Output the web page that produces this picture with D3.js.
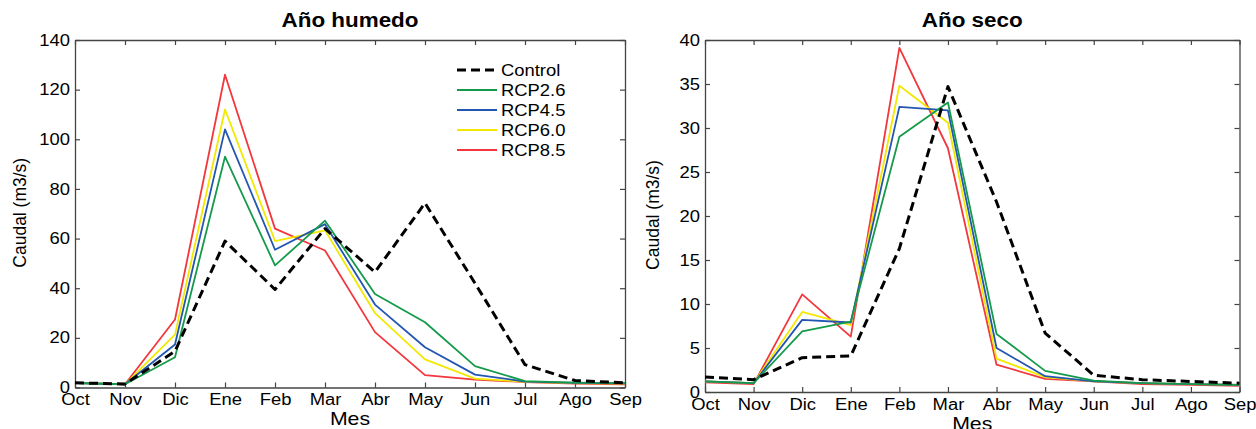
<!DOCTYPE html>
<html>
<head>
<meta charset="utf-8">
<script src="https://cdn.jsdelivr.net/npm/d3@7"></script>
<style>
  body { margin: 0; background: #fff; }
  svg { font-family: "Liberation Sans", Arial, sans-serif; }
</style>
</head>
<body>
<svg width="1256" height="429"></svg>
<script>
let months = ['Oct', 'Nov', 'Dic', 'Ene', 'Feb', 'Mar', 'Abr', 'May', 'Jun', 'Jul', 'Ago', 'Sep']
let seriesNames = ['Control', 'RCP2.6', 'RCP4.5', 'RCP6.0', 'RCP8.5']

// Año humedo
let wetControl = [1.9, 1.4, 14.6, 59, 39.5, 64, 46.5, 74.3, 42, 9.2, 2.8, 1.9]
let wetRcp26   = [1.8, 1.3, 12.2, 93, 49.2, 67.2, 37.7, 26.3, 8.6, 2.6, 2.0, 1.8]
let wetRcp45   = [1.8, 1.3, 17.3, 104, 55.5, 65.8, 33.4, 16.2, 5.2, 2.4, 1.9, 1.7]
let wetRcp60   = [1.8, 1.3, 21.3, 112, 59, 63.3, 30.0, 11.3, 3.6, 2.3, 1.8, 1.6]
let wetRcp85   = [1.9, 1.3, 27.4, 126, 64, 55.2, 22.3, 5.0, 3.2, 2.2, 1.6, 1.3]

// Año seco
let dryControl = [1.7, 1.4, 3.9, 4.1, 16.3, 34.7, 21.6, 6.7, 1.9, 1.4, 1.2, 1.0]
let dryRcp26   = [1.2, 1.0, 6.9, 8.0, 29.0, 32.9, 6.6, 2.4, 1.3, 1.0, 0.9, 0.8]
let dryRcp45   = [1.2, 1.0, 8.2, 7.9, 32.4, 32.0, 5.0, 1.8, 1.2, 1.0, 0.9, 0.8]
let dryRcp60   = [1.2, 1.0, 9.1, 7.6, 34.8, 30.6, 3.8, 1.7, 1.2, 1.0, 0.9, 0.8]
let dryRcp85   = [1.1, 0.9, 11.1, 6.3, 39.1, 27.7, 3.1, 1.5, 1.2, 0.9, 0.8, 0.7]

let wetTicks = [0, 20, 40, 60, 80, 100, 120, 140]
let dryTicks = [0, 5, 10, 15, 20, 25, 30, 35, 40]

let colors = ['#000000', '#159a4b', '#2356b0', '#f2e800', '#f2373d']
let widths = [3, 1.8, 1.8, 1.8, 1.8]

let svg = d3.select('svg')

let drawPanel = (opts) => {
  let xScale = d3.scalePoint()
    .domain(months)
    .range([opts.left, opts.right])

  let yScale = d3.scaleLinear()
    .domain([0, opts.max])
    .range([opts.bottom, opts.top])

  let g = svg.append('g')

  // box with inward ticks, like matlab
  let xAxis = d3.axisBottom(xScale).tickSizeInner(-5).tickSizeOuter(0).tickPadding(6.5)
  let xAxisTop = d3.axisTop(xScale).tickSizeInner(-5).tickSizeOuter(0).tickFormat('')
  let yAxis = d3.axisLeft(yScale).tickValues(opts.ticks).tickSizeInner(-5).tickSizeOuter(0).tickPadding(5)
  let yAxisRight = d3.axisRight(yScale).tickValues(opts.ticks).tickSizeInner(-5).tickSizeOuter(0).tickFormat('')

  g.append('g').attr('transform', 'translate(0,' + opts.bottom + ')').call(xAxis)
  g.append('g').attr('transform', 'translate(0,' + opts.top + ')').call(xAxisTop)
  g.append('g').attr('transform', 'translate(' + opts.left + ',0)').call(yAxis)
  g.append('g').attr('transform', 'translate(' + opts.right + ',0)').call(yAxisRight)

  g.selectAll('.domain').attr('stroke', '#444').attr('stroke-width', 1.3)
  g.selectAll('.tick line').attr('stroke', '#444').attr('stroke-width', 1.2)
  g.selectAll('.tick text')
    .attr('class', 'stretch')
    .attr('font-size', 16)
    .attr('fill', '#000')
    .attr('font-family', '"Liberation Sans", Arial, sans-serif')

  let line = d3.line()
    .x((d, i) => xScale(months[i]))
    .y((d) => yScale(d))

  // colored lines first, control on top
  let order = [4, 3, 2, 1, 0]
  order.forEach((k) => {
    g.append('path')
      .datum(opts.series[k])
      .attr('fill', 'none')
      .attr('stroke', colors[k])
      .attr('stroke-width', widths[k])
      .attr('stroke-dasharray', k == 0 ? '9,5' : null)
      .attr('stroke-linejoin', 'round')
      .attr('d', line)
  })

  g.append('text')
    .attr('class', 'stretch')
    .attr('x', (opts.left + opts.right) / 2)
    .attr('y', 27)
    .attr('text-anchor', 'middle')
    .attr('font-size', 19.5)
    .attr('font-weight', 'bold')
    .text(opts.title)

  g.append('text')
    .attr('class', 'stretch')
    .attr('x', (opts.left + opts.right) / 2)
    .attr('y', opts.bottom + 37.5)
    .attr('text-anchor', 'middle')
    .attr('font-size', 18.5)
    .text('Mes')

  g.append('text')
    .attr('transform', 'translate(' + opts.ylabelX + ',' + ((opts.top + opts.bottom) / 2 - 1) + ') rotate(-90)')
    .attr('text-anchor', 'middle')
    .attr('font-size', 17.5)
    .text('Caudal (m3/s)')

  return g
}

drawPanel({
  left: 75, right: 625, top: 40, bottom: 387.5, max: 140, ticks: wetTicks,
  ylabelX: 26,
  title: 'Año humedo',
  series: [wetControl, wetRcp26, wetRcp45, wetRcp60, wetRcp85]
})

drawPanel({
  left: 705, right: 1239.5, top: 40, bottom: 392, max: 40, ticks: dryTicks,
  ylabelX: 659,
  title: 'Año seco',
  series: [dryControl, dryRcp26, dryRcp45, dryRcp60, dryRcp85]
})

// legend
let legend = svg.append('g').attr('transform', 'translate(457,70)')
seriesNames.forEach((name, i) => {
  legend.append('line')
    .attr('x1', 0).attr('x2', 40)
    .attr('y1', i * 20).attr('y2', i * 20)
    .attr('stroke', colors[i])
    .attr('stroke-width', i == 0 ? 3 : 1.8)
    .attr('stroke-dasharray', i == 0 ? '9,5' : null)
  legend.append('text')
    .attr('class', 'stretch')
    .attr('x', 44)
    .attr('y', i * 20 + 6)
    .attr('font-size', 16)
    .text(name)
})

// the reference text is a bit wider than the font, widen it
svg.selectAll('text.stretch').each(function () {
  let w = this.getComputedTextLength()
  d3.select(this)
    .attr('textLength', w * 1.15)
    .attr('lengthAdjust', 'spacingAndGlyphs')
})
</script>
</body>
</html>
